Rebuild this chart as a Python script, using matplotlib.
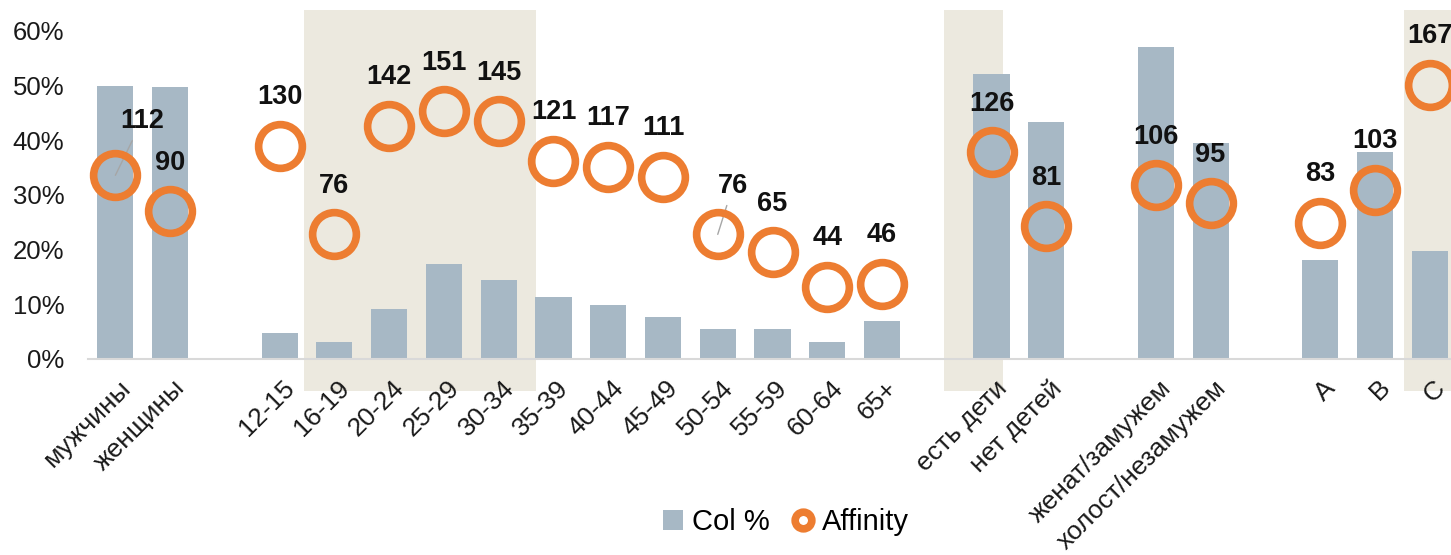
import matplotlib
matplotlib.use('Agg')
import matplotlib.pyplot as plt
from matplotlib.transforms import ScaledTranslation
from matplotlib.lines import Line2D

plt.rcParams['font.family'] = ['Liberation Sans', 'DejaVu Sans']

# данные
categories = ['мужчины', 'женщины',
              '12-15', '16-19', '20-24', '25-29', '30-34', '35-39', '40-44',
              '45-49', '50-54', '55-59', '60-64', '65+',
              'есть дети', 'нет детей',
              'женат/замужем', 'холост/незамужем',
              'A', 'B', 'C']
col_pct = [50.0, 49.8,
           4.7, 3.1, 9.1, 17.3, 14.5, 11.4, 9.8, 7.6, 5.5, 5.5, 3.1, 7.0,
           52.1, 43.3,
           57.0, 39.6,
           18.2, 37.9, 19.7]
affinity = [112, 90,
            130, 76, 142, 151, 145, 121, 117, 111, 76, 65, 44, 46,
            126, 81,
            106, 95,
            83, 103, 167]
group_sizes = [2, 12, 2, 2, 3]

# позиции с пропусками между группами
x = []
pos = 0
for g in group_sizes:
    for _ in range(g):
        x.append(pos)
        pos += 1
    pos += 1

bar_color = '#a7b8c5'
orange = '#ED7D31'
shade = '#ECE9DF'

fig = plt.figure(figsize=(14.51, 5.55), dpi=100)
H = 555.0
ax = fig.add_axes([88 / 1451, 1 - 359 / H, 1 - 88 / 1451, 349 / H])
ymax = 349 / 5.467
ax.set_ylim(0, ymax)
ax.set_xlim(-0.5, 24.39)

# подсветка групп
spans = [(x[3] - 0.56, x[6] + 0.68), (x[14] - 0.86, x[14] + 0.20), (x[20] - 0.46, x[20] + 0.6)]
for a, b in spans:
    r = ax.axvspan(a, b, ymin=-32 / 349, ymax=1, color=shade, lw=0, zorder=0)
    r.set_clip_on(False)

ax.bar(x, col_pct, width=0.66, color=bar_color, zorder=2, label='Col %')

ax.set_yticks(range(0, 61, 10))
ax.set_yticklabels([f'{v}%' for v in range(0, 61, 10)], fontsize=18.5, color='#1a1a1a')
ax.tick_params(axis='y', length=0, pad=17)
ax.set_xticks(x)
ax.set_xticklabels(categories, rotation=45, ha='right', va='top',
                   rotation_mode='anchor', fontsize=19, color='#1a1a1a')
ax.tick_params(axis='x', length=0, pad=12)
for lbl in ax.get_xticklabels():
    lbl.set_transform(lbl.get_transform() + ScaledTranslation(0.03, 0, fig.dpi_scale_trans))

for s in ['top', 'right', 'left']:
    ax.spines[s].set_visible(False)
ax.spines['bottom'].set_color('#d9d9d9')
ax.spines['bottom'].set_linewidth(1.5)
ax.spines['bottom'].set_zorder(3)

# Affinity на второй оси
ax2 = ax.twinx()
ax2.set_ylim(0, ymax / 0.3)
ax2.axis('off')
ax2.plot(x, affinity, linestyle='none', marker='o', markersize=31.5,
         markerfacecolor='none', markeredgecolor=orange, markeredgewidth=5.5,
         label='Affinity', zorder=4)

special = {0: (19, 39), 10: (11, 35)}
for i, (xi, v) in enumerate(zip(x, affinity)):
    if i in special:
        dx, dy = special[i]
        ax2.annotate(str(v), (xi, v), xytext=(dx, dy), textcoords='offset points',
                     ha='center', va='center', fontsize=19.5, fontweight='bold',
                     color='#111111',
                     arrowprops=dict(arrowstyle='-', color='#a6a6a6', lw=1,
                                     shrinkA=3, shrinkB=0))
    else:
        ax2.annotate(str(v), (xi, v), xytext=(0, 35), textcoords='offset points',
                     ha='center', va='center', fontsize=19.5, fontweight='bold',
                     color='#111111')

# легенда
h1, l1 = ax.get_legend_handles_labels()
h2, l2 = ax2.get_legend_handles_labels()
ring = Line2D([], [], linestyle='none', marker='o', markersize=12,
              markerfacecolor='white', markeredgecolor=orange, markeredgewidth=5.5)
fig.legend(h1 + [ring], l1 + l2, loc='center', bbox_to_anchor=(786 / 1451, 1 - 522 / H),
           ncol=2, frameon=False, fontsize=21, handlelength=0.7, handleheight=0.7,
           handletextpad=0.3, columnspacing=0.8)

fig.savefig('out.png', dpi=100)
